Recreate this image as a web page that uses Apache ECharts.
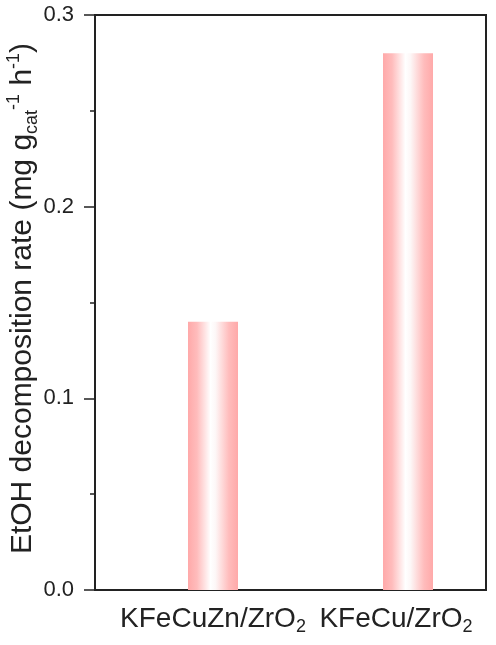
<!DOCTYPE html>
<html>
<head>
<meta charset="utf-8">
<script src="https://cdn.jsdelivr.net/npm/echarts@6/dist/echarts.min.js"></script>
<style>
  html, body { margin: 0; padding: 0; background: #fff; }
  #main { width: 496px; height: 645px; }
</style>
</head>
<body>
<div id="main"></div>
<script>
// data
var catalysts = ['KFeCuZn/ZrO2', 'KFeCu/ZrO2'];
var rates = [0.14, 0.28];
var yTicks = [0, 0.1, 0.2, 0.3];

var FONT = 'Liberation Sans, Arial, sans-serif';
var myChart = echarts.init(document.getElementById('main'));

// subscript digits after "O"
function labelRich(v) {
  return v.replace(/O(\d)$/, 'O{sub|$1}');
}

var pink = new echarts.graphic.LinearGradient(0, 0, 1, 0, [
  { offset: 0, color: '#ffa9a9' },
  { offset: 0.18, color: '#ffbcbc' },
  { offset: 0.45, color: '#ffffff' },
  { offset: 0.55, color: '#fdf7f7' },
  { offset: 0.82, color: '#ffbcbc' },
  { offset: 1, color: '#ffa9a9' }
]);

// last label sits a bit left of its bar, as in the original figure
var catData = catalysts.map(function (c, i) {
  return i === catalysts.length - 1 ? { value: c, textStyle: { padding: [0, 24, 0, 0] } } : c;
});

var option = {
  backgroundColor: '#fff',
  animation: false,
  grid: [
    // frame + y axis
    { left: 95, right: 10, top: 15, bottom: 55, outerBoundsMode: 'none', show: true, borderColor: '#222', borderWidth: 2, backgroundColor: 'transparent' },
    // bars
    { left: 115.5, width: 390, top: 15, bottom: 55, outerBoundsMode: 'none' }
  ],
  xAxis: [
    { gridIndex: 0, type: 'category', data: catalysts, show: false },
    {
      gridIndex: 1, type: 'category', data: catData,
      axisLine: { show: false }, axisTick: { show: false },
      axisLabel: {
        interval: 0, hideOverlap: false,
        margin: 12, color: '#222', fontFamily: FONT, fontSize: 28, lineHeight: 34,
        formatter: labelRich,
        rich: { sub: { fontSize: 18, verticalAlign: 'bottom', fontFamily: FONT, color: '#222' } }
      }
    }
  ],
  yAxis: [
    {
      gridIndex: 0, type: 'value', min: yTicks[0], max: yTicks[yTicks.length - 1], interval: 0.1,
      axisLine: { show: true, lineStyle: { color: '#222', width: 2 } },
      axisTick: { show: true, inside: false, length: 11, lineStyle: { color: '#222', width: 1.5 } },
      minorTick: { show: true, splitNumber: 2, length: 5, lineStyle: { color: '#222', width: 1.5 } },
      splitLine: { show: false },
      axisLabel: {
        margin: 21, color: '#222', fontFamily: FONT, fontSize: 22,
        formatter: function (v) { return v.toFixed(1); }
      },
      name: 'EtOH decomposition rate (mg g{sub|cat}{sup|-1} h{sup|-1})',
      nameLocation: 'middle',
      nameGap: 54,
      nameMoveOverlap: false,
      nameTextStyle: {
        color: '#222', fontFamily: FONT, fontSize: 30, lineHeight: 36,
        padding: [0, 0, 0, 8],
        rich: {
          sup: { fontSize: 18, verticalAlign: 'top', fontFamily: FONT, color: '#222' },
          sub: { fontSize: 18, verticalAlign: 'bottom', fontFamily: FONT, color: '#222' }
        }
      }
    },
    { gridIndex: 1, type: 'value', min: yTicks[0], max: yTicks[yTicks.length - 1], show: false }
  ],
  series: [
    {
      type: 'bar',
      xAxisIndex: 1,
      yAxisIndex: 1,
      data: rates,
      barWidth: 50,
      itemStyle: { color: pink }
    }
  ]
};

myChart.setOption(option);
</script>
</body>
</html>
